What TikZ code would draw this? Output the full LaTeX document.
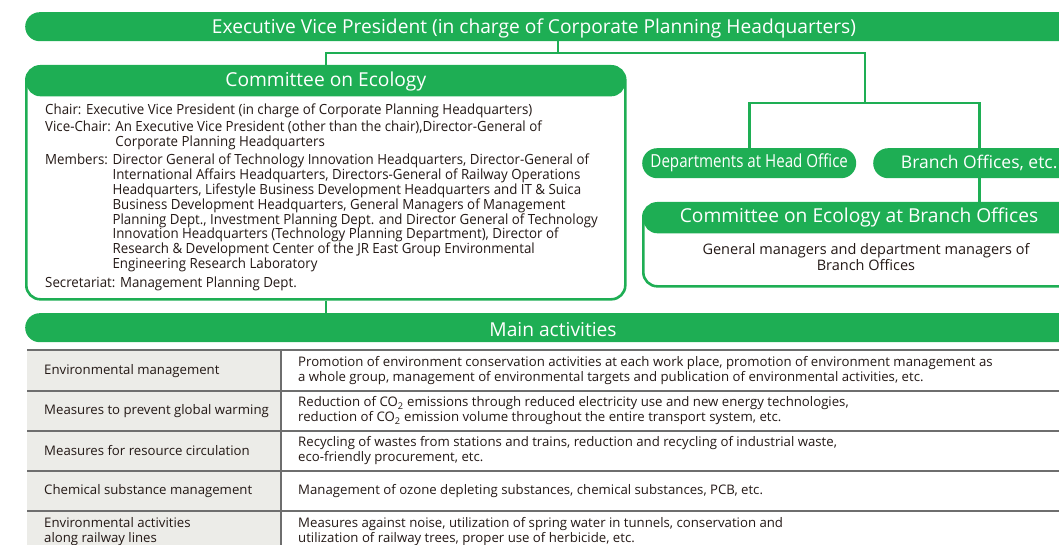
\documentclass[tikz,border=0pt]{standalone}
\usepackage{fontspec}
\setmainfont{Open Sans}
\newfontfamily\condfont[FakeStretch=0.95]{Open Sans}
\newfontfamily\pillfont[FakeStretch=0.84]{Open Sans}

\definecolor{ecogreen}{RGB}{30,174,84}
\definecolor{cellgray}{RGB}{236,236,232}
\definecolor{rulegray}{RGB}{110,110,110}
\definecolor{inkblack}{RGB}{35,24,21}

\tikzset{
  bar/.style={fill=ecogreen, rounded corners=14.5pt, inner sep=0pt, minimum height=29pt, anchor=north west},
  bartext/.style={text=white, inner sep=0pt, font=\fontsize{19.2}{21}\selectfont},
  pill/.style={fill=ecogreen, rounded corners=15pt, minimum height=30pt, inner sep=0pt, text=white, anchor=north west},
  panel/.style={draw=ecogreen, line width=2.6pt, rounded corners=14pt, inner sep=0pt, anchor=north west,
    path picture={\fill[ecogreen] (path picture bounding box.north west) rectangle ([yshift=-30pt]path picture bounding box.north east);}},
  link/.style={draw=ecogreen, line width=2.6pt},
  bodytext/.style={text=inkblack, inner sep=0pt, align=left, anchor=north west, font=\condfont\fontsize{14}{14.8}\selectfont},
  celltext/.style={text=inkblack, inner sep=0pt, align=left, anchor=west, font=\fontsize{13.2}{15}\selectfont},
  cellrule/.style={draw=rulegray, line width=1.4pt},
}

\begin{document}
\begin{tikzpicture}[x=1pt, y=-1pt]
  \clip (0,0) rectangle (1059,545);

  % executive vice president
  \node[bar, minimum width=1100pt] (evp) at (25,12) {};
  \node[bartext] (evplabel) at (534,28) {Executive Vice President (in charge of Corporate Planning Headquarters)};

  % committee on ecology
  \node[panel, minimum width=599pt, minimum height=233pt] (cmt) at (25,65) {};
  \node[bartext] (cmtlabel) at ([yshift=-17pt]cmt.north) {Committee on Ecology};
  \node[bodytext] (cmtbody) at (45,103.5) {%
    Chair: Executive Vice President (in charge of Corporate Planning Headquarters)\\[2.5pt]
    Vice-Chair: An Executive Vice President (other than the chair),Director-General of\\
    \phantom{Vice-Chair: }Corporate Planning Headquarters\\[3.5pt]
    Members: Director General of Technology Innovation Headquarters, Director-General of\\
    \phantom{Members: }International Affairs Headquarters, Directors-General of Railway Operations\\
    \phantom{Members: }Headquarters, Lifestyle Business Development Headquarters and IT \& Suica\\
    \phantom{Members: }Business Development Headquarters, General Managers of Management\\
    \phantom{Members: }Planning Dept., Investment Planning Dept. and Director General of Technology\\
    \phantom{Members: }Innovation Headquarters (Technology Planning Department), Director of\\
    \phantom{Members: }Research \& Development Center of the JR East Group Environmental\\
    \phantom{Members: }Engineering Research Laboratory\\[4pt]
    Secretariat: Management Planning Dept.};

  % head office and branches
  \node[pill, minimum width=214pt, font=\pillfont\fontsize{18}{20}\selectfont] (dept) at (642,148) {Departments at Head Office};
  \node[pill, minimum width=212pt, font=\fontsize{17.5}{20}\selectfont] (branch) at (873,148) {Branch Offices, etc.};
  \node[panel, minimum width=450pt, minimum height=83pt] (branchcmt) at (642,202) {};
  \node[bartext] (branchcmtlabel) at (859,217.5) {Committee on Ecology at Branch Offices};
  \node[text=inkblack, inner sep=0pt, align=center, font=\fontsize{14.5}{16.5}\selectfont] (branchbody) at (866,257)
    {General managers and department managers of\\Branch Offices};

  % main activities
  \node[bar, minimum width=1100pt] (main) at (25,313) {};
  \node[bartext] (mainlabel) at (553,329.5) {Main activities};

  % connectors
  \coordinate (fork) at (558,53);
  \coordinate (split) at (865,103);
  \draw[link] (evp.south -| fork) -- (fork);
  \draw[link] (cmt.north) |- (fork) -| (split);
  \draw[link] (dept.north) |- (split) -| (branch.north);
  \draw[link] (branch.south) -- (branch.south |- branchcmt.north);
  \draw[link] (cmt.south) -- (cmt.south |- main.north);

  % table
  \fill[cellgray] (27,350) rectangle (281,545);
  \draw[draw=rulegray, line width=2.2pt] (27,350) -- (1059,350);
  \foreach \y in {391,431,471,511}
    \draw[cellrule] (27,\y) -- (1059,\y);
  \draw[draw=rulegray, line width=1.2pt] (281,350) -- (281,545);

  \node[celltext] (area1) at (44,371) {Environmental management};
  \node[celltext] (act1) at (298,371) {Promotion of environment conservation activities at each work place, promotion of environment management as\\a whole group, management of environmental targets and publication of environmental activities, etc.};
  \node[celltext] (area2) at (44,411) {Measures to prevent global warming};
  \node[celltext] (act2) at (298,411) {Reduction of CO\textsubscript{2} emissions through reduced electricity use and new energy technologies,\\reduction of CO\textsubscript{2} emission volume throughout the entire transport system, etc.};
  \node[celltext] (area3) at (44,451) {Measures for resource circulation};
  \node[celltext] (act3) at (298,451) {Recycling of wastes from stations and trains, reduction and recycling of industrial waste,\\eco-friendly procurement, etc.};
  \node[celltext] (area4) at (44,491) {Chemical substance management};
  \node[celltext] (act4) at (298,491) {Management of ozone depleting substances, chemical substances, PCB, etc.};
  \node[celltext] (area5) at (44,531.5) {Environmental activities\\along railway lines};
  \node[celltext] (act5) at (298,531.5) {Measures against noise, utilization of spring water in tunnels, conservation and\\utilization of railway trees, proper use of herbicide, etc.};
\end{tikzpicture}
\end{document}
